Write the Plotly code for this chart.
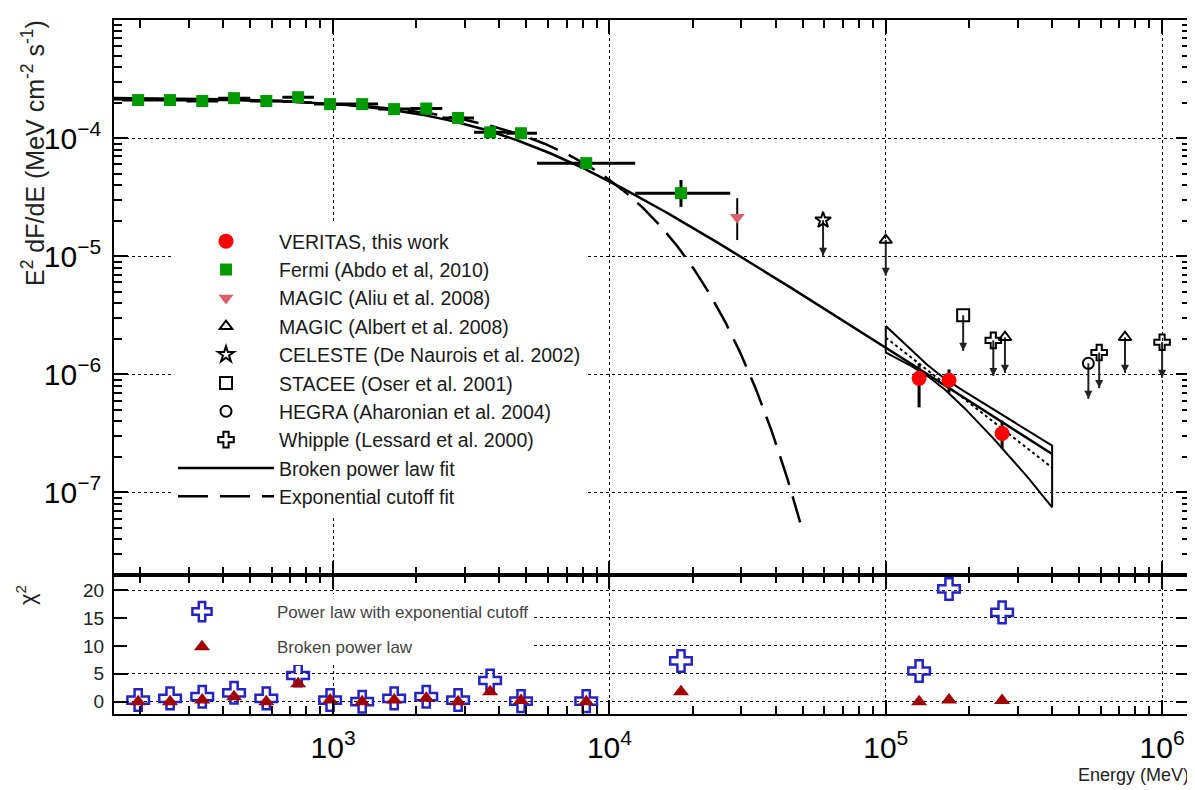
import numpy as np
import plotly.graph_objects as go
from plotly.subplots import make_subplots

# ---------------- data ----------------
fermi_e = [197, 257, 336, 438, 573, 747, 975, 1274, 1663, 2173, 2833, 3700, 4786, 8240, 18150]
fermi_f = [2.10e-4, 2.10e-4, 2.06e-4, 2.18e-4, 2.06e-4, 2.22e-4, 1.94e-4, 1.94e-4,
           1.76e-4, 1.78e-4, 1.48e-4, 1.12e-4, 1.10e-4, 6.14e-5, 3.42e-5]
fermi_edges = [172, 225, 294, 384, 501, 655, 853, 1114, 1455, 1901, 2483, 3236, 4227,
               5470, 12390, 27350]
fermi_err_up = [0.06e-4, 0.06e-4, 0.06e-4, 0.07e-4, 0.07e-4, 0.08e-4, 0.07e-4, 0.07e-4,
                0.07e-4, 0.08e-4, 0.07e-4, 0.07e-4, 0.07e-4, 0.5e-5, 1.0e-5]
fermi_err_dn = [0.06e-4, 0.06e-4, 0.06e-4, 0.07e-4, 0.07e-4, 0.08e-4, 0.07e-4, 0.07e-4,
                0.07e-4, 0.08e-4, 0.07e-4, 0.07e-4, 0.07e-4, 0.5e-5, 0.8e-5]

veritas_e = [132000, 169400, 263600]
veritas_f = [9.25e-7, 8.9e-7, 3.16e-7]
veritas_err_up = [3.1e-7, 2.1e-7, 0.9e-7]
veritas_err_dn = [4.0e-7, 1.9e-7, 0.8e-7]

magic_aliu_e = [29000]
magic_aliu_f = [2.14e-5]
magic_aliu_err_up = [0.96e-5]
magic_aliu_err_dn = [0.77e-5]

# upper limits
magic_albert_e = [100000, 270000, 734000]
magic_albert_f = [1.37e-5, 2.06e-6, 2.06e-6]
celeste_e = [59300]
celeste_f = [2.02e-5]
stacee_e = [190600]
stacee_f = [3.16e-6]
hegra_e = [541000]
hegra_f = [1.24e-6]
whipple_e = [245000, 592000, 1000000]
whipple_f = [1.94e-6, 1.53e-6, 1.87e-6]
ul_arrow_ratio = 0.5

# fit parameters
bpl_norm, bpl_ebreak, bpl_g1, bpl_g2 = 2.2e-4, 3900.0, 2.0, 3.5
bpl_emin, bpl_emax = 161.0, 4.0e5
ecut_norm, ecut_eref, ecut_g, ecut_ec = 2.32e-4, 1000.0, 1.97, 5800.0
ecut_emin, ecut_emax = 161.0, 49000.0
ver_pivot, ver_norm, ver_index = 1.53e5, 9.4e-7, 3.83
ver_norm_relerr, ver_index_err = 0.10, 0.55
ver_emin, ver_emax = 1.0e5, 4.0e5

# chi-square panel
chi_e = fermi_e + veritas_e
chi_ecut = [0.3, 0.6, 0.9, 1.6, 0.6, 4.7, 0.3, 0.0, 0.6, 0.9, 0.3, 3.8, 0.1, 0.1, 7.3,
            5.5, 20.2, 16.0]
chi_bpl = [0.0, 0.0, 0.3, 0.9, 0.0, 3.2, 0.3, 0.0, 0.3, 0.6, 0.0, 1.8, 0.2, 0.0, 1.8,
           0.0, 0.3, 0.2]

# ---------------- figure ----------------
FONT = "Liberation Sans, Arial, Helvetica, sans-serif"
fig = make_subplots(rows=2, cols=1, shared_xaxes=True, vertical_spacing=0)

# model curves
e_bpl = np.logspace(np.log10(bpl_emin), np.log10(bpl_emax), 400)
f_bpl = bpl_norm * (e_bpl / bpl_ebreak) ** (2 - bpl_g1) / (1 + (e_bpl / bpl_ebreak) ** (bpl_g2 - bpl_g1))
e_ec = np.logspace(np.log10(ecut_emin), np.log10(ecut_emax), 400)
f_ec = ecut_norm * (e_ec / ecut_eref) ** (2 - ecut_g) * np.exp(-e_ec / ecut_ec)

e_bf = np.logspace(np.log10(ver_emin), np.log10(ver_emax), 100)
f_bf = ver_norm * (e_bf / ver_pivot) ** (2 - ver_index)
sig = np.sqrt(ver_norm_relerr ** 2 + (ver_index_err * np.log(e_bf / ver_pivot)) ** 2)
bf_x = list(e_bf) + list(e_bf[::-1]) + [e_bf[0]]
bf_y = list(f_bf * (1 + sig)) + list((f_bf * (1 - sig))[::-1]) + [f_bf[0] * (1 + sig[0])]

fig.add_trace(go.Scatter(x=bf_x, y=bf_y, mode="lines", line=dict(color="black", width=2),
                         showlegend=False, hoverinfo="skip"), row=1, col=1)
fig.add_trace(go.Scatter(x=e_bf, y=f_bf, mode="lines", line=dict(color="black", width=2, dash="dot"),
                         showlegend=False, hoverinfo="skip"), row=1, col=1)
fig.add_trace(go.Scatter(x=e_bpl, y=f_bpl, mode="lines", name="Broken power law fit",
                         line=dict(color="black", width=2.5), legend="legend",
                         legendgroup="g9", legendrank=9), row=1, col=1)
fig.add_trace(go.Scatter(x=e_ec, y=f_ec, mode="lines", name="Exponential cutoff fit",
                         line=dict(color="black", width=2.5, dash="30px,12px"), legend="legend",
                         legendgroup="g10", legendrank=10), row=1, col=1)

# upper-limit arrows
ul_sets = [
    (magic_albert_e, magic_albert_f, "triangle-up-open", "MAGIC (Albert et al. 2008)", 4, 11),
    (celeste_e, celeste_f, "star-open", "CELESTE (De Naurois et al. 2002)", 5, 12),
    (stacee_e, stacee_f, "square-open", "STACEE (Oser et al. 2001)", 6, 12),
    (hegra_e, hegra_f, "circle-open", "HEGRA (Aharonian et al. 2004)", 7, 11),
    (whipple_e, whipple_f, "cross-open", "Whipple (Lessard et al. 2000)", 8, 13),
]
for es, fs, sym, name, rank, size in ul_sets:
    sx, sy = [], []
    for e, f in zip(es, fs):
        sx += [e, e, None]
        sy += [f, f * ul_arrow_ratio, None]
    fig.add_trace(go.Scatter(x=sx, y=sy, mode="lines", line=dict(color="#222", width=2),
                             showlegend=False, hoverinfo="skip"), row=1, col=1)
    fig.add_trace(go.Scatter(x=es, y=[f * ul_arrow_ratio for f in fs], mode="markers",
                             marker=dict(symbol="arrow-down", size=8, color="#222"),
                             showlegend=False, hoverinfo="skip"), row=1, col=1)

# data points
fig.add_trace(go.Scatter(
    x=fermi_e, y=fermi_f, mode="markers", name="Fermi (Abdo et al, 2010)",
    marker=dict(symbol="square", size=12, color="#009a00"),
    error_x=dict(type="data", symmetric=False,
                 array=[fermi_edges[i + 1] - fermi_e[i] for i in range(len(fermi_e))],
                 arrayminus=[fermi_e[i] - fermi_edges[i] for i in range(len(fermi_e))],
                 color="black", thickness=3, width=0),
    error_y=dict(type="data", symmetric=False, array=fermi_err_up, arrayminus=fermi_err_dn,
                 color="black", thickness=3, width=0),
    legend="legend", legendgroup="g2", legendrank=2), row=1, col=1)

fig.add_trace(go.Scatter(
    x=magic_aliu_e, y=magic_aliu_f, mode="markers", name="MAGIC (Aliu et al. 2008)",
    marker=dict(symbol="triangle-down", size=13, color="#d95f6a"),
    error_y=dict(type="data", symmetric=False, array=magic_aliu_err_up,
                 arrayminus=magic_aliu_err_dn, color="black", thickness=2, width=0),
    legend="legend", legendgroup="g3", legendrank=3), row=1, col=1)

for es, fs, sym, name, rank, size in ul_sets:
    fig.add_trace(go.Scatter(
        x=es, y=fs, mode="markers", name=name,
        marker=dict(symbol=sym, size=size, color="black", line=dict(width=2, color="black")),
        legend="legend", legendgroup="g%d" % rank, legendrank=rank), row=1, col=1)

fig.add_trace(go.Scatter(
    x=veritas_e, y=veritas_f, mode="markers", name="VERITAS, this work",
    marker=dict(symbol="circle", size=15, color="#ff0000"),
    error_y=dict(type="data", symmetric=False, array=veritas_err_up, arrayminus=veritas_err_dn,
                 color="black", thickness=3, width=0),
    legend="legend", legendgroup="g1", legendrank=1), row=1, col=1)

# chi-square panel
fig.add_trace(go.Scatter(
    x=chi_e, y=chi_ecut, mode="markers", name="Power law with exponential cutoff",
    marker=dict(symbol="cross-open", size=18, color="#2323c8", line=dict(width=2.5, color="#2323c8")),
    legend="legend2", legendgroup="c1", legendrank=1), row=2, col=1)
fig.add_trace(go.Scatter(
    x=chi_e, y=chi_bpl, mode="markers", name="Broken power law",
    marker=dict(symbol="triangle-up", size=14, color="#a00000"),
    legend="legend2", legendgroup="c2", legendrank=2), row=2, col=1)

# ---------------- layout ----------------
# the page body adds an 8 px offset, so the figure is 8 px smaller than the window
OFF = 8
W, H = 1195 - OFF, 790 - OFF
ml, mr, mt, mb = 114 - OFF, 5, 20 - OFF, 76
pw, ph = W - ml - mr, H - mt - mb


def px_x(p):  # screen px -> paper x
    return (p - OFF - ml) / pw


def px_y(p):  # screen px -> paper y
    return (H - mb - (p - OFF)) / ph


axis_common = dict(showline=True, linecolor="black", linewidth=2, mirror="allticks",
                   ticks="inside", tickcolor="black", tickwidth=2, automargin=False,
                   showgrid=True, gridcolor="black", gridwidth=1, griddash="dot",
                   zeroline=False, tickfont=dict(family=FONT, size=24, color="black"))

fig.update_layout(
    width=W, height=H, margin=dict(l=ml, r=mr, t=mt, b=mb, autoexpand=False),
    paper_bgcolor="white", plot_bgcolor="white",
    font=dict(family=FONT, color="black"),
    legend=dict(x=px_x(173), y=px_y(222), xanchor="left", yanchor="top",
                bgcolor="white", borderwidth=0, font=dict(size=19.5, color="#1a1a1a", family=FONT),
                itemwidth=96, tracegroupgap=0, traceorder="normal"),
    legend2=dict(x=px_x(127), y=px_y(594), xanchor="left", yanchor="top",
                 bgcolor="white", borderwidth=0, font=dict(size=17, color="#444", family=FONT),
                 itemwidth=140, tracegroupgap=10, traceorder="grouped"),
    showlegend=True,
)

fig.update_xaxes(**axis_common)
fig.update_yaxes(**axis_common)

fig.update_layout(
    xaxis=dict(type="log", range=[2.207, 6.101], dtick=1, showticklabels=False, ticklen=14,
               minor=dict(ticks="inside", ticklen=8, tickcolor="black", dtick="D1", showgrid=False),
               domain=[0, 1]),
    xaxis2=dict(type="log", range=[2.207, 6.101], dtick=1, exponentformat="power",
                showticklabels=True, ticklen=14, ticklabelstandoff=7,
                minor=dict(ticks="inside", ticklen=8, tickcolor="black", dtick="D1", showgrid=False),
                domain=[0, 1]),
    yaxis=dict(type="log", range=[np.log10(2e-8), -3], dtick=1, exponentformat="power",
               ticklen=14, ticklabelstandoff=6,
               minor=dict(ticks="inside", ticklen=8, tickcolor="black", dtick="D1", showgrid=False),
               domain=[px_y(575), 1]),
    yaxis2=dict(range=[-2.2, 22.7], tickvals=[0, 5, 10, 15, 20], ticklen=14,
                tickfont=dict(family=FONT, size=19, color="#222"), ticklabelstandoff=4,
                domain=[0, px_y(575)]),
)

fig.add_annotation(text="E<sup>2</sup> dF/dE (MeV cm<sup>-2</sup> s<sup>-1</sup>)",
                   xref="paper", yref="paper", x=px_x(33), y=px_y(18), textangle=-90,
                   xanchor="center", yanchor="top", showarrow=False,
                   font=dict(family=FONT, size=25, color="#222"))
fig.add_annotation(text="χ<sup>2</sup>", xref="paper", yref="paper", x=px_x(26), y=px_y(595),
                   textangle=-90, xanchor="center", yanchor="middle", showarrow=False,
                   font=dict(family=FONT, size=22, color="#222"))
fig.add_annotation(text="Energy (MeV)", xref="paper", yref="paper", x=px_x(1191), y=px_y(775),
                   xanchor="right", yanchor="middle", showarrow=False,
                   font=dict(family=FONT, size=18, color="#222"))

fig.write_html("out.html")
